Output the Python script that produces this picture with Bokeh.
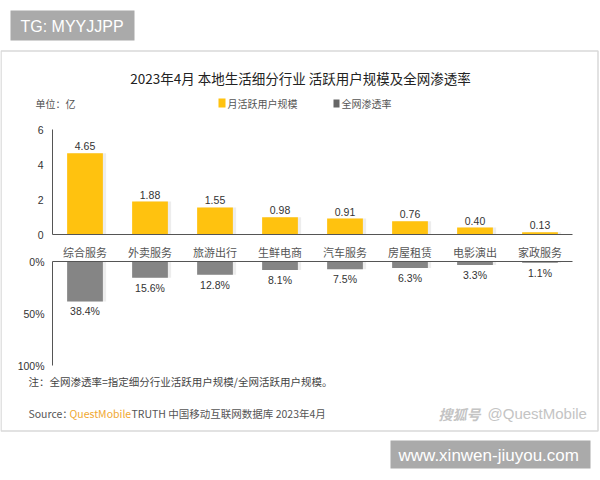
from bokeh.plotting import figure
from bokeh.models import Range1d
from bokeh.embed import file_html
from bokeh.resources import INLINE
from bokeh.core.properties import value
import numpy as np

# ---- data -------------------------------------------------------------
categories = ["综合服务", "外卖服务", "旅游出行", "生鲜电商", "汽车服务", "房屋租赁", "电影演出", "家政服务"]
mau = [4.65, 1.88, 1.55, 0.98, 0.91, 0.76, 0.40, 0.13]      # 月活跃用户规模 (亿)
penetration = [38.4, 15.6, 12.8, 8.1, 7.5, 6.3, 3.3, 1.1]   # 全网渗透率 (%)
mau_ticks = [0, 2, 4, 6]
pct_ticks = [0, 50, 100]
pct_tick_labels = ["0%", "50%", "100%"]

# ---- layout (pixels) --------------------------------------------------
W, H = 600, 480
AX_LEFT = 52       # where both value axes sit
CAT_W = 65         # width of one category slot
UP_ZERO = 234      # 0 line of the user-scale panel, from the top
UP_SCALE = 17.5    # px per 亿
LOW_ZERO = 261     # 0% line of the penetration panel, from the top
LOW_SCALE = 1.04   # px per percentage point

CJK = "Noto Sans CJK SC"
LAT = "Liberation Sans"
YELLOW = "#FFC20F"
GREY_BAR = "#858585"
AXIS = "#555555"

p = figure(
    width=W, height=H,
    x_range=Range1d(-AX_LEFT / CAT_W, (W - AX_LEFT) / CAT_W),
    y_range=Range1d(-(H - UP_ZERO) / UP_SCALE, UP_ZERO / UP_SCALE),
    x_axis_type=None, y_axis_type=None,
    output_backend="svg", toolbar_location=None,
    min_border=0, outline_line_color=None,
    background_fill_color="white", border_fill_color="white",
)
p.grid.visible = False
p.extra_x_ranges = {"px": Range1d(0, W)}
p.extra_y_ranges = {
    "py": Range1d(H, 0),
    "pct": Range1d((H - LOW_ZERO) / LOW_SCALE, -LOW_ZERO / LOW_SCALE),
}


def txt(x, y, s, size, color, align="left", baseline="middle", font=CJK,
        xr="px", yr="py", **kw):
    xs = x if isinstance(x, (list, np.ndarray)) else [x]
    ys = y if isinstance(y, (list, np.ndarray)) else [y]
    ss = s if isinstance(s, list) else [s]
    p.text(x=xs, y=ys, text=ss, text_font=value(font),
           text_font_size=f"{size}px", text_color=color,
           text_align=align, text_baseline=baseline,
           x_range_name=xr, y_range_name=yr, **kw)


# ---- header tag -------------------------------------------------------
p.quad(left=10, right=134, top=10, bottom=40, fill_color="#aaaaaa",
       line_color=None, x_range_name="px", y_range_name="py")
txt(20, 25.5, "TG: MYYJJPP", 16, "white", font=LAT)

# ---- card -------------------------------------------------------------
p.quad(left=0.5, right=597.5, top=50.5, bottom=430.5, fill_color="white",
       line_color="#d9d9d9", line_width=1.5, x_range_name="px", y_range_name="py")

txt(W / 2, 77, "2023年4月 本地生活细分行业 活跃用户规模及全网渗透率", 13.5, "#222222",
    align="center")
txt(35, 103, "单位：亿", 10, "#555555")

# legend
p.quad(left=218, right=225, top=98, bottom=107, fill_color=YELLOW,
       line_color=None, x_range_name="px", y_range_name="py")
txt(227, 103, "月活跃用户规模", 10, "#555555")
p.quad(left=333, right=339, top=99, bottom=107, fill_color="#666666",
       line_color=None, x_range_name="px", y_range_name="py")
txt(341, 103, "全网渗透率", 10, "#555555")

# ---- upper panel: monthly active users -------------------------------
xs = np.arange(len(categories)) + 0.5
p.vbar(x=xs + 0.05, top=mau, bottom=0, width=0.55, fill_color="#000000",
       fill_alpha=0.07, line_color=None)
p.vbar(x=xs, top=mau, bottom=0, width=0.55, fill_color=YELLOW, line_color=None)
txt(list(xs), mau, [f"{v:.2f}" for v in mau], 10.5, "#333333",
    align="center", baseline="bottom", font=LAT, xr="default", yr="default",
    y_offset=-3)

p.segment(x0=[0, 0], y0=[0, 0], x1=[0, len(categories)], y1=[mau_ticks[-1], 0],
          line_color=AXIS, line_width=1)
txt([0] * len(mau_ticks), mau_ticks, [str(t) for t in mau_ticks], 10.5, "#333333",
    align="right", font=LAT, xr="default", yr="default", x_offset=-9)

# category labels between the panels
p.text(x=xs, y=[251] * len(xs), text=categories, text_font=value(CJK),
       text_font_size="11px", text_color="#555555", text_align="center",
       text_baseline="middle", y_range_name="py")

# ---- lower panel: penetration ----------------------------------------
p.vbar(x=xs + 0.05, top=0, bottom=penetration, width=0.55, fill_color="#000000",
       fill_alpha=0.07, line_color=None, y_range_name="pct")
p.vbar(x=xs, top=0, bottom=penetration, width=0.55, fill_color=GREY_BAR,
       line_color=None, y_range_name="pct")
txt(list(xs), penetration, [f"{v:.1f}%" for v in penetration], 10.5, "#333333",
    align="center", baseline="top", font=LAT, xr="default", yr="pct",
    y_offset=4)

p.segment(x0=[0, 0], y0=[0, 0], x1=[0, len(categories)], y1=[pct_ticks[-1], 0],
          line_color=AXIS, line_width=1, y_range_name="pct")
txt([0] * len(pct_ticks), pct_ticks, pct_tick_labels, 10.5, "#333333",
    align="right", font=LAT, xr="default", yr="pct", x_offset=-8)

# ---- notes ------------------------------------------------------------
txt(28, 381, "注：全网渗透率=指定细分行业活跃用户规模/全网活跃用户规模。", 10.5, "#444444")
txt(28, 413, "Source：", 10.5, "#555555")
txt(69, 413, "QuestMobile", 10.5, "#F0A830")
txt(131, 413, "TRUTH 中国移动互联网数据库 2023年4月", 10.5, "#555555")

txt(438, 413, "搜狐号", 14, "#c4c4c4", font=CJK, text_font_style="bold italic")
txt(487, 413, "@QuestMobile", 15, "#c4c4c4", font=LAT)

# ---- footer tag -------------------------------------------------------
p.quad(left=390, right=590, top=440, bottom=468, fill_color="#aaaaaa",
       line_color=None, x_range_name="px", y_range_name="py")
txt(398, 454.5, "www.xinwen-jiuyou.com", 17, "white", font=LAT)

open("out.html", "w").write(file_html(p, INLINE))
